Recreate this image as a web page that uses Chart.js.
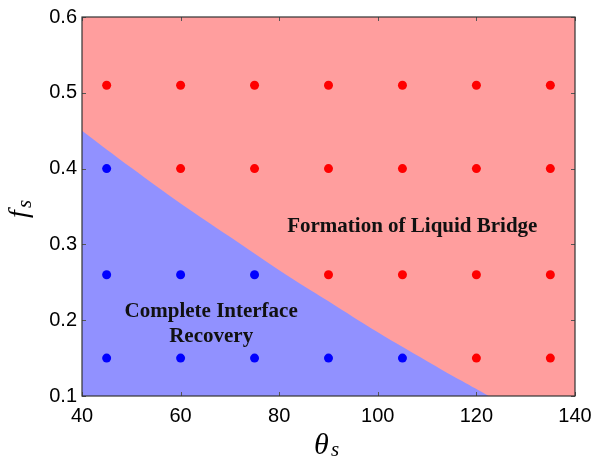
<!DOCTYPE html>
<html>
<head>
<meta charset="utf-8">
<script src="https://cdn.jsdelivr.net/npm/chart.js@4.4.0/dist/chart.umd.min.js"></script>
<style>
  html, body { margin: 0; padding: 0; background: #fff; }
  #wrap { width: 604px; height: 457px; }
</style>
</head>
<body>
<div id="wrap"><canvas id="chart" width="604" height="457"></canvas></div>
<script>
const xTicks = [40, 60, 80, 100, 120, 140];
const yTicks = [0.1, 0.2, 0.3, 0.4, 0.5, 0.6];

// whole parameter window (bridge region underneath)
const windowTheta = [40, 140];
const windowF = [0.6, 0.6];

// boundary of the recovery region
const boundaryTheta = [40, 50, 60, 70, 80, 90, 100, 110, 117, 122.5];
const boundaryF = [0.450, 0.401, 0.354, 0.310, 0.266, 0.225, 0.184, 0.146, 0.120, 0.100];

// simulated cases
const bridgeTheta = [45, 60, 75, 90, 105, 120, 135, 60, 75, 90, 105, 120, 135, 90, 105, 120, 135, 120, 135];
const bridgeF = [0.51, 0.51, 0.51, 0.51, 0.51, 0.51, 0.51, 0.40, 0.40, 0.40, 0.40, 0.40, 0.40, 0.26, 0.26, 0.26, 0.26, 0.15, 0.15];
const recoveryTheta = [45, 45, 60, 75, 45, 60, 75, 90, 105];
const recoveryF = [0.40, 0.26, 0.26, 0.26, 0.15, 0.15, 0.15, 0.15, 0.15];

const pinkFill = "rgb(255,158,158)";
const blueFill = "rgb(145,145,255)";

function pts(xs, ys) {
  return xs.map((x, i) => ({ x: x, y: ys[i] }));
}

// frame, inner tick marks, region labels and axis titles
const decor = {
  id: "decor",
  afterDraw(chart) {
    const ctx = chart.ctx;
    const a = chart.chartArea;
    const sx = chart.scales.x, sy = chart.scales.y;
    ctx.save();

    // inward ticks
    ctx.strokeStyle = "#555";
    ctx.lineWidth = 1;
    ctx.beginPath();
    xTicks.forEach(v => {
      const px = Math.round(sx.getPixelForValue(v)) + 0.5;
      ctx.moveTo(px, a.bottom); ctx.lineTo(px, a.bottom - 4);
      ctx.moveTo(px, a.top); ctx.lineTo(px, a.top + 4);
    });
    yTicks.forEach(v => {
      const py = Math.round(sy.getPixelForValue(v)) + 0.5;
      ctx.moveTo(a.left, py); ctx.lineTo(a.left + 4, py);
      ctx.moveTo(a.right, py); ctx.lineTo(a.right - 4, py);
    });
    ctx.stroke();

    ctx.strokeStyle = "#333";
    ctx.lineWidth = 1.2;
    ctx.strokeRect(a.left, a.top, a.right - a.left, a.bottom - a.top);

    // region labels
    ctx.fillStyle = "#111";
    ctx.font = "bold 21px 'Liberation Serif'";
    ctx.textAlign = "center";
    ctx.textBaseline = "alphabetic";
    ctx.fillText("Formation of Liquid Bridge", sx.getPixelForValue(107), sy.getPixelForValue(0.316));
    ctx.fillText("Complete Interface", sx.getPixelForValue(66.2), sy.getPixelForValue(0.204));
    ctx.fillText("Recovery", sx.getPixelForValue(66.2), sy.getPixelForValue(0.171));

    // x title: theta_s
    ctx.fillStyle = "#000";
    ctx.textAlign = "left";
    ctx.font = "italic 30px 'Liberation Serif'";
    ctx.fillText("θ", 314, 454);
    ctx.font = "italic 21px 'Liberation Serif'";
    ctx.fillText("s", 331, 456);

    // y title: f_s
    ctx.translate(27, 218);
    ctx.rotate(-Math.PI / 2);
    ctx.font = "italic 28px 'Liberation Serif'";
    ctx.fillText("f", 0, 0);
    ctx.font = "italic 21px 'Liberation Serif'";
    ctx.fillText("s", 10, 4);
    ctx.restore();
  }
};

new Chart(document.getElementById("chart"), {
  type: "scatter",
  data: {
    datasets: [
      {
        data: pts(bridgeTheta, bridgeF),
        backgroundColor: "#ff0000",
        borderWidth: 0,
        pointRadius: 4.5,
        order: 1
      },
      {
        data: pts(recoveryTheta, recoveryF),
        backgroundColor: "#0000ff",
        borderWidth: 0,
        pointRadius: 4.5,
        order: 1
      },
      {
        type: "line",
        data: pts(boundaryTheta, boundaryF),
        borderWidth: 0,
        borderColor: "rgba(0,0,0,0)",
        backgroundColor: blueFill,
        pointRadius: 0,
        tension: 0.4,
        fill: "start",
        order: 2
      },
      {
        type: "line",
        data: pts(windowTheta, windowF),
        borderWidth: 0,
        borderColor: "rgba(0,0,0,0)",
        backgroundColor: pinkFill,
        pointRadius: 0,
        fill: "start",
        order: 3
      }
    ]
  },
  options: {
    responsive: false,
    animation: false,
    layout: { padding: { left: 0, right: 29, top: 14, bottom: 0 } },
    plugins: {
      legend: { display: false },
      tooltip: { enabled: false }
    },
    scales: {
      x: {
        type: "linear",
        min: 40,
        max: 140,
        afterBuildTicks: s => { s.ticks = xTicks.map(v => ({ value: v })); },
        afterFit: s => { s.height = 61; },
        grid: { display: false, drawTicks: false },
        border: { display: false },
        ticks: {
          font: { family: "'Liberation Sans'", size: 20 },
          color: "#000",
          padding: 8,
          maxRotation: 0
        }
      },
      y: {
        type: "linear",
        min: 0.1,
        max: 0.6,
        afterBuildTicks: s => { s.ticks = yTicks.map(v => ({ value: v })); },
        afterFit: s => { s.width = 82; },
        grid: { display: false, drawTicks: false },
        border: { display: false },
        ticks: {
          font: { family: "'Liberation Sans'", size: 20 },
          color: "#000",
          padding: 5,
          callback: v => v.toFixed(1)
        }
      }
    }
  },
  plugins: [decor]
});
</script>
</body>
</html>
